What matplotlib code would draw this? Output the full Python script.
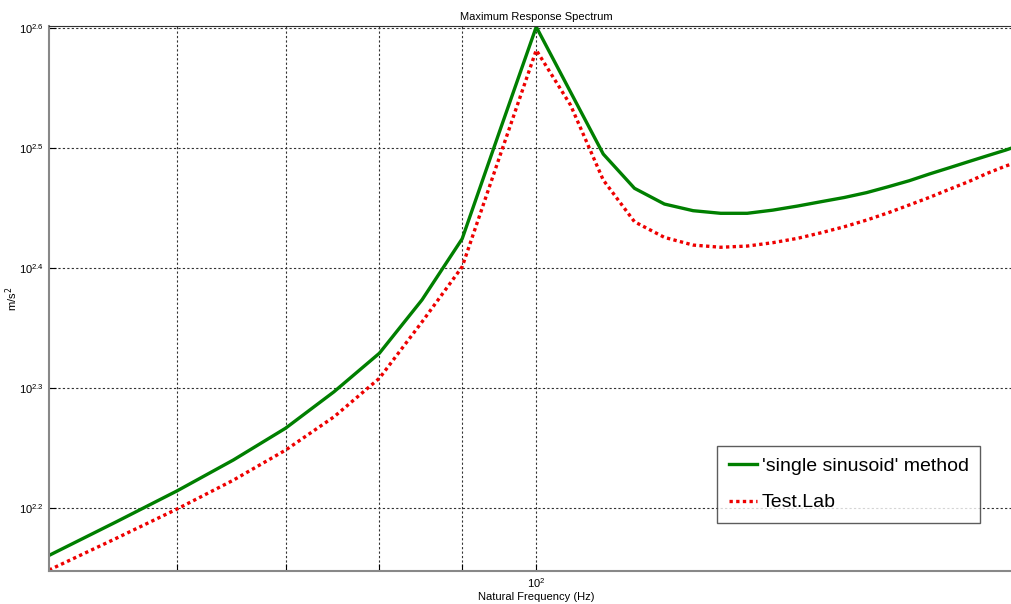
import numpy as np
import matplotlib
matplotlib.use("Agg")
import matplotlib.pyplot as plt
from matplotlib.ticker import FixedLocator, NullFormatter, NullLocator

plt.rcParams["font.family"] = ["Liberation Sans", "DejaVu Sans"]

# natural frequency (Hz)
freq = [50, 55, 60, 65, 70, 75, 80, 85, 90, 95, 100, 105, 110, 115, 120, 125,
        130, 135, 140, 145, 150, 155, 160, 165, 170, 175, 180, 185, 190, 195, 200]

# 'single sinusoid' method (m/s^2)
single_sin = [144.7, 154.3, 163.8, 173.8, 184.7, 198.1, 213.3, 236.3, 265.7, 327.6,
              399.0, 352.1, 312.6, 292.7, 284.0, 280.4, 279.0, 279.0, 280.7, 282.9,
              285.3, 287.6, 290.3, 293.6, 297.0, 300.9, 304.5, 308.1, 311.6, 315.0, 318.7]

# Test.Lab (m/s^2)
testlab = [140.7, 149.5, 158.2, 167.2, 177.1, 188.8, 203.3, 226.5, 251.8, 312.0,
           381.6, 343.4, 297.4, 274.5, 266.4, 262.5, 261.4, 262.0, 263.7, 265.9,
           268.8, 271.9, 275.4, 279.3, 283.5, 287.7, 292.2, 296.5, 301.3, 305.5, 309.0]

y_exps = [2.2, 2.3, 2.4, 2.5, 2.6]
x_minor = [60, 70, 80, 90]

W, H = 1012, 604
fig = plt.figure(figsize=(W / 100, H / 100), dpi=100)
ax = fig.add_axes([49 / W, 1 - 571 / H, (1023.5 - 49) / W, (571 - 26) / H])

ax.plot(freq, single_sin, color="#007f00", lw=2.4, label="'single sinusoid' method")
ax.plot(freq, testlab, color="#ee0000", lw=2.4, ls=(0, (1, 1)), label="Test.Lab")

ax.set_xscale("log")
ax.set_yscale("log")
ax.set_xlim(50, 200)
ax.set_ylim(10 ** 2.1475, 10 ** 2.6017)

ax.xaxis.set_major_locator(FixedLocator([100]))
ax.set_xticklabels([r"$\mathregular{10^{2}}$"])
ax.xaxis.set_minor_locator(FixedLocator(x_minor))
ax.xaxis.set_minor_formatter(NullFormatter())

ax.yaxis.set_major_locator(FixedLocator([10 ** e for e in y_exps]))
ax.set_yticklabels([r"$\mathregular{10^{%.1f}}$" % e for e in y_exps])
ax.yaxis.set_minor_locator(NullLocator())

ax.tick_params(which="both", direction="in", labelsize=8, length=5, width=0.8)
ax.tick_params(axis="y", right=False)

ax.grid(True, which="major", ls=(0, (2, 2)), color="#333333", lw=0.8)
ax.grid(True, which="minor", axis="x", ls=(0, (2, 2)), color="#333333", lw=0.8)

for side in ["left", "bottom"]:
    ax.spines[side].set_color("#888888")
    ax.spines[side].set_linewidth(1.5)
ax.spines["top"].set_color("#333333")
ax.spines["right"].set_visible(False)

ax.set_title("Maximum Response Spectrum", fontsize=8, pad=4)
ax.set_xlabel("Natural Frequency (Hz)", fontsize=8, labelpad=2)
ax.set_ylabel(r"m/s$^2$", fontsize=8)
ax.yaxis.set_label_coords(-0.03, 0.5)

leg = ax.legend(loc="upper left", bbox_to_anchor=(717 / W, 1 - 446 / H),
                bbox_transform=fig.transFigure, fontsize=14, frameon=True,
                fancybox=False, handlelength=1.45, handletextpad=0.25,
                borderpad=0.6, labelspacing=0.95, borderaxespad=0)
leg.get_frame().set_edgecolor("#333333")
leg.get_frame().set_linewidth(1.0)

fig.savefig("out.png", dpi=100)
